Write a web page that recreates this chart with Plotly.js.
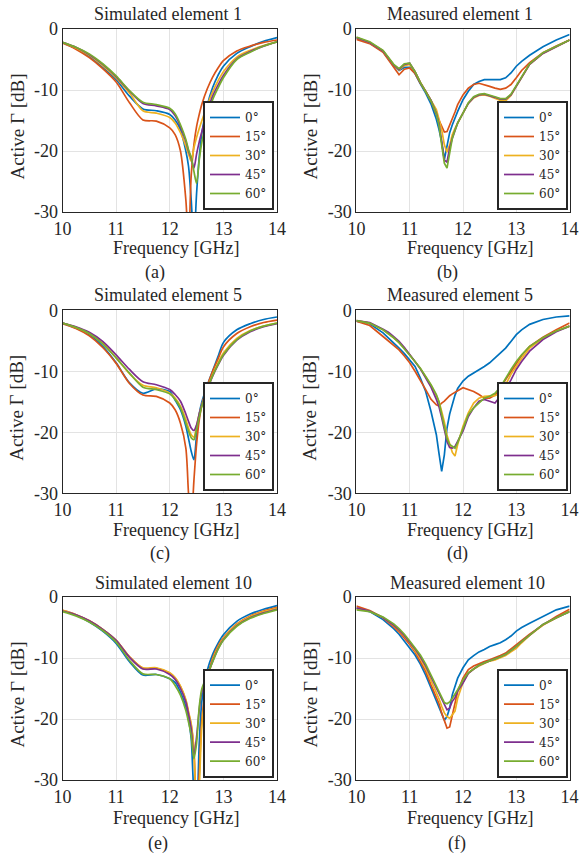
<!DOCTYPE html>
<html>
<head>
<meta charset="utf-8">
<script src="https://cdn.plot.ly/plotly-3.0.1.min.js"></script>
<style>html,body{margin:0;padding:0;background:#fff;}#chart{width:580px;height:861px;}</style>
</head>
<body>
<div id="chart"></div>
<script>
// ---------- data ----------
const angleNames = ['0°', '15°', '30°', '45°', '60°'];
const colors = ['#0072BD', '#D95319', '#EDB120', '#7E2F8E', '#77AC30'];

const simFreq = [10, 10.25, 10.5, 10.75, 11, 11.25, 11.5, 11.75, 12, 12.1, 12.2, 12.3, 12.35, 12.4, 12.45, 12.5, 12.55, 12.6, 12.7, 12.8, 12.9, 13, 13.25, 13.5, 13.75, 14];
const measFreq = [10, 10.25, 10.5, 10.6, 10.7, 10.8, 10.9, 11, 11.1, 11.2, 11.3, 11.4, 11.5, 11.55, 11.6, 11.65, 11.7, 11.75, 11.8, 11.85, 11.9, 12, 12.1, 12.2, 12.3, 12.4, 12.5, 12.6, 12.7, 12.8, 12.9, 13, 13.1, 13.25, 13.5, 13.75, 14];

// (a) Simulated element 1
const simEl1_0  = [-2.2, -3.2, -4.5, -6.3, -8.3, -11.0, -13.1, -13.4, -14.0, -14.9, -16.5, -20.0, -22.5, -28.0, -35, -27.0, -21.0, -17.0, -12.5, -9.6, -7.6, -6.1, -4.0, -2.9, -2.0, -1.4];
const simEl1_15 = [-2.3, -3.3, -4.7, -6.5, -8.7, -12.1, -14.9, -15.1, -16.2, -17.3, -20.0, -28.0, -35, -24.0, -19.0, -16.0, -14.0, -12.3, -9.8, -7.9, -6.4, -5.2, -3.6, -2.8, -2.2, -1.8];
const simEl1_30 = [-2.2, -3.1, -4.3, -6.0, -8.0, -10.5, -13.4, -13.8, -14.5, -15.4, -17.0, -19.2, -20.5, -21.7, -19.5, -17.8, -16.3, -15.0, -12.5, -10.3, -8.5, -7.0, -4.6, -3.5, -2.7, -2.1];
const simEl1_45 = [-2.2, -3.0, -4.2, -5.8, -7.8, -10.2, -12.2, -12.6, -13.2, -14.2, -16.0, -18.4, -20.0, -21.2, -22.8, -20.5, -18.5, -16.8, -13.6, -11.0, -9.2, -7.6, -4.9, -3.7, -2.8, -2.1];
const simEl1_60 = [-2.2, -3.0, -4.1, -5.7, -7.7, -10.1, -12.0, -12.4, -13.0, -13.9, -15.7, -18.1, -19.8, -21.0, -23.3, -25.3, -21.5, -18.5, -14.5, -11.6, -9.7, -8.0, -5.0, -3.8, -2.8, -2.1];

// (b) Measured element 1
const measEl1_0  = [-1.5, -2.3, -3.7, -4.8, -6.0, -6.8, -6.3, -6.3, -7.3, -9.0, -10.5, -12.3, -14.8, -16.5, -18.5, -21.4, -19.0, -17.0, -15.7, -14.5, -13.5, -11.6, -10.2, -9.1, -8.6, -8.3, -8.3, -8.3, -8.3, -8.0, -7.2, -6.1, -5.3, -4.3, -2.9, -1.8, -0.9];
const measEl1_15 = [-1.7, -2.4, -3.8, -5.0, -6.4, -7.5, -6.6, -6.4, -7.3, -8.9, -10.2, -11.8, -14.0, -15.0, -16.2, -16.9, -16.8, -15.8, -14.9, -13.6, -12.4, -10.8, -9.7, -9.1, -8.9, -9.1, -9.4, -9.7, -9.9, -9.7, -9.1, -8.0, -6.8, -5.5, -3.9, -2.8, -1.8];
const measEl1_30 = [-1.4, -2.2, -3.6, -4.7, -5.9, -6.7, -6.0, -5.8, -7.0, -8.7, -10.2, -11.6, -13.2, -14.8, -16.5, -19.0, -20.2, -19.0, -17.3, -16.3, -15.4, -13.8, -12.2, -11.3, -10.9, -10.8, -11.0, -11.3, -11.7, -11.8, -10.9, -9.4, -8.0, -5.8, -4.0, -2.9, -1.8];
const measEl1_45 = [-1.4, -2.2, -3.6, -4.7, -5.9, -6.6, -5.8, -5.6, -7.0, -8.8, -10.3, -11.7, -13.8, -15.5, -18.5, -21.5, -21.8, -19.5, -17.9, -16.6, -15.4, -13.8, -12.2, -11.2, -10.8, -10.7, -10.9, -11.2, -11.5, -11.5, -10.8, -9.4, -8.0, -5.8, -4.0, -2.9, -1.8];
const measEl1_60 = [-1.3, -2.1, -3.5, -4.6, -5.8, -6.5, -5.7, -5.6, -7.0, -8.8, -10.3, -11.8, -13.9, -15.8, -19.0, -22.0, -22.8, -20.0, -17.9, -16.6, -15.4, -13.8, -12.1, -11.1, -10.7, -10.6, -10.8, -11.1, -11.4, -11.4, -10.7, -9.3, -7.9, -5.7, -3.9, -2.8, -1.8];

// (c) Simulated element 5
const simEl5_0  = [-2.1, -2.9, -4.0, -5.9, -8.6, -11.9, -13.6, -12.9, -13.3, -14.7, -16.3, -19.0, -21.0, -23.1, -24.5, -20.5, -17.0, -15.0, -12.3, -9.9, -7.6, -5.3, -3.2, -2.2, -1.5, -1.1];
const simEl5_15 = [-2.2, -3.0, -4.2, -6.1, -8.7, -12.0, -13.9, -14.1, -15.2, -16.3, -18.5, -22.6, -30.0, -35, -28.0, -22.0, -18.0, -15.5, -12.4, -10.0, -8.0, -6.0, -3.8, -2.7, -2.0, -1.6];
const simEl5_30 = [-2.1, -2.8, -3.8, -5.4, -7.8, -10.4, -12.3, -12.7, -13.6, -14.4, -15.7, -17.9, -19.3, -20.4, -20.8, -19.0, -17.0, -15.5, -12.8, -10.5, -8.6, -7.0, -4.6, -3.3, -2.6, -2.1];
const simEl5_45 = [-2.1, -2.7, -3.6, -5.1, -7.3, -9.7, -11.7, -12.2, -13.0, -13.8, -14.9, -17.0, -18.2, -19.3, -19.7, -18.8, -17.0, -15.5, -13.0, -10.8, -9.0, -7.4, -4.9, -3.5, -2.7, -2.2];
const simEl5_60 = [-2.1, -2.8, -3.8, -5.5, -7.8, -10.3, -12.6, -13.0, -13.7, -14.6, -16.0, -18.5, -19.8, -20.9, -21.2, -19.5, -17.5, -15.7, -13.0, -10.7, -8.9, -7.3, -4.8, -3.4, -2.6, -2.1];

// (d) Measured element 5
const measEl5_0  = [-1.8, -2.2, -3.7, -4.5, -5.3, -6.2, -7.1, -8.1, -9.2, -11.1, -13.3, -16.6, -20.4, -23.5, -26.4, -23.7, -19.3, -17.0, -15.3, -13.9, -12.8, -11.6, -10.8, -10.3, -9.7, -9.2, -8.6, -7.8, -7.0, -6.2, -5.1, -4.0, -3.2, -2.3, -1.5, -1.1, -0.9];
const measEl5_15 = [-1.8, -2.5, -4.3, -5.0, -5.7, -6.5, -7.5, -8.6, -10.0, -11.4, -13.0, -14.6, -15.5, -15.7, -15.2, -14.9, -14.4, -14.0, -13.7, -13.4, -13.2, -12.7, -13.0, -13.3, -13.8, -14.4, -14.4, -13.9, -12.7, -11.4, -10.0, -8.6, -7.4, -5.9, -4.4, -3.2, -2.1];
const measEl5_30 = [-1.7, -2.1, -3.2, -3.8, -4.5, -5.3, -6.2, -7.3, -8.4, -9.6, -10.9, -12.3, -14.0, -15.0, -16.6, -18.3, -20.5, -22.0, -23.3, -23.9, -22.0, -19.0, -16.8, -15.2, -14.4, -14.1, -14.0, -14.0, -13.6, -12.2, -10.5, -9.2, -7.9, -6.2, -4.6, -3.4, -2.6];
const measEl5_45 = [-1.7, -2.0, -3.1, -3.6, -4.3, -5.1, -6.1, -7.2, -8.4, -9.6, -11.0, -12.6, -14.6, -15.8, -17.6, -19.5, -21.5, -22.5, -22.6, -22.3, -21.5, -19.8, -17.4, -16.0, -14.9, -14.6, -14.9, -15.2, -14.1, -13.0, -11.4, -9.7, -8.4, -6.7, -4.8, -3.5, -2.6];
const measEl5_60 = [-1.7, -2.1, -3.2, -3.8, -4.5, -5.3, -6.3, -7.3, -8.4, -9.5, -10.8, -12.2, -13.8, -15.0, -17.1, -19.0, -21.0, -22.0, -22.3, -22.6, -21.7, -19.3, -17.1, -16.0, -15.2, -14.4, -14.1, -13.6, -12.6, -11.1, -9.7, -8.4, -7.3, -5.9, -4.5, -3.4, -2.6];

// (e) Simulated element 10
const simEl10_0  = [-2.3, -3.0, -4.1, -5.6, -7.6, -10.6, -12.8, -12.7, -13.4, -14.0, -15.6, -18.0, -20.0, -23.2, -32.0, -35, -24.0, -17.0, -12.0, -9.4, -7.6, -6.2, -4.0, -2.8, -2.0, -1.4];
const simEl10_15 = [-2.2, -2.9, -3.9, -5.3, -7.1, -9.8, -11.7, -11.7, -12.5, -13.3, -14.7, -17.0, -19.0, -21.0, -25.0, -35, -29.0, -20.0, -13.5, -10.0, -8.0, -6.7, -4.4, -3.1, -2.3, -1.7];
const simEl10_30 = [-2.2, -2.9, -3.9, -5.3, -7.1, -9.8, -11.6, -11.6, -12.4, -13.2, -14.6, -16.8, -18.8, -20.8, -25.0, -35, -31.0, -21.0, -14.0, -10.3, -8.2, -6.8, -4.5, -3.2, -2.4, -1.8];
const simEl10_45 = [-2.3, -2.9, -3.9, -5.3, -7.1, -9.9, -11.8, -11.8, -12.7, -13.5, -15.0, -17.2, -19.2, -21.6, -26.2, -23.0, -18.5, -15.5, -12.8, -10.6, -8.5, -7.0, -4.7, -3.4, -2.6, -2.0];
const simEl10_60 = [-2.4, -3.1, -4.1, -5.5, -7.4, -10.4, -12.6, -12.7, -13.4, -14.5, -16.1, -18.6, -20.5, -22.7, -26.5, -24.0, -18.0, -15.0, -12.8, -10.6, -8.6, -7.1, -4.8, -3.5, -2.7, -2.1];

// (f) Measured element 10
const measEl10_0  = [-1.8, -2.4, -3.7, -4.4, -5.2, -6.1, -7.2, -8.4, -9.5, -11.0, -12.8, -14.9, -17.1, -18.3, -19.3, -20.2, -19.6, -18.2, -16.0, -14.6, -13.3, -11.6, -10.3, -9.6, -9.0, -8.6, -8.1, -7.8, -7.5, -7.0, -6.4, -5.6, -5.0, -4.3, -3.2, -2.1, -1.5];
const measEl10_15 = [-1.5, -2.2, -3.4, -4.1, -4.9, -5.7, -6.7, -7.8, -9.0, -10.5, -12.2, -14.4, -16.3, -17.5, -19.0, -20.4, -21.5, -21.3, -19.3, -17.1, -15.5, -13.3, -11.9, -11.3, -10.9, -10.6, -10.3, -10.0, -9.6, -9.2, -8.5, -7.8, -7.1, -6.1, -4.6, -3.2, -2.0];
const measEl10_30 = [-1.9, -2.3, -3.4, -4.0, -4.7, -5.5, -6.4, -7.5, -8.7, -10.1, -11.7, -13.6, -15.5, -16.7, -17.9, -19.0, -19.6, -19.9, -19.3, -18.7, -16.6, -14.0, -12.5, -11.8, -11.3, -10.9, -10.5, -10.3, -10.0, -9.6, -9.0, -8.4, -7.5, -6.3, -4.6, -3.4, -2.3];
const measEl10_45 = [-1.8, -2.3, -3.4, -4.0, -4.6, -5.4, -6.3, -7.4, -8.5, -9.8, -11.3, -13.1, -14.9, -15.8, -16.8, -17.8, -18.5, -18.2, -17.1, -16.5, -15.4, -14.1, -12.5, -11.8, -11.2, -10.8, -10.5, -10.2, -9.8, -9.4, -8.8, -8.1, -7.3, -6.2, -4.5, -3.4, -2.4];
const measEl10_60 = [-2.1, -2.4, -3.3, -3.8, -4.4, -5.2, -6.1, -7.2, -8.3, -9.5, -11.0, -12.8, -14.6, -15.5, -16.5, -17.3, -17.5, -17.2, -16.6, -16.0, -15.2, -13.6, -12.4, -11.8, -11.2, -10.8, -10.5, -10.2, -9.8, -9.4, -8.8, -8.1, -7.3, -6.2, -4.5, -3.4, -2.4];

const panelTitles = ['Simulated element 1', 'Measured element 1', 'Simulated element 5', 'Measured element 5', 'Simulated element 10', 'Measured element 10'];
const panelLetters = ['(a)', '(b)', '(c)', '(d)', '(e)', '(f)'];
const xTickVals = [10, 11, 12, 13, 14];
const xTickText = ['10', '11', '12', '13', '14'];
const yTickVals = [-30, -20, -10, 0];
const yTickText = ['-30', '-20', '-10', '0'];
const xTitle = 'Frequency [GHz]';
const yTitle = 'Active Γ [dB]';

// ---------- build ----------
const panels = [
  {freq: simFreq,  series: [simEl1_0, simEl1_15, simEl1_30, simEl1_45, simEl1_60], sim: true},
  {freq: measFreq, series: [measEl1_0, measEl1_15, measEl1_30, measEl1_45, measEl1_60], sim: false},
  {freq: simFreq,  series: [simEl5_0, simEl5_15, simEl5_30, simEl5_45, simEl5_60], sim: true},
  {freq: measFreq, series: [measEl5_0, measEl5_15, measEl5_30, measEl5_45, measEl5_60], sim: false},
  {freq: simFreq,  series: [simEl10_0, simEl10_15, simEl10_30, simEl10_45, simEl10_60], sim: true},
  {freq: measFreq, series: [measEl10_0, measEl10_15, measEl10_30, measEl10_45, measEl10_60], sim: false}
];

const W = 580, H = 861;
const colX = [[62.5, 277], [356.4, 569.6]];
const rowY = [[29, 212], [310.3, 493.3], [597, 780]];
const titleY = [14, 295, 583];
const titleX = [[168, 460], [168, 460], [173, 467]];
const freqY = [248, 530, 818];
const freqX = [176, 470];
const letterY = [272, 553, 843];
const letterX = [[155, 447], [160, 457], [158, 457]];
const yTitleX = [17, 310];
const legendRight = [274, 568];
const legendBottom = [210, 491, 777.7];

const serif = 'Liberation Serif, Times New Roman, serif';
const txtColor = '#262626';

const traces = [];
const layout = {
  width: W, height: H,
  margin: {l: 0, r: 0, t: 0, b: 0},
  paper_bgcolor: '#ffffff', plot_bgcolor: '#ffffff',
  font: {family: serif, size: 18, color: txtColor},
  annotations: []
};

panels.forEach((p, i) => {
  const r = Math.floor(i / 2), c = i % 2;
  const k = i + 1;
  const xa = 'x' + (k === 1 ? '' : k), ya = 'y' + (k === 1 ? '' : k);
  const legName = 'legend' + (k === 1 ? '' : k);
  p.series.forEach((vals, s) => {
    traces.push({
      type: 'scatter', mode: 'lines',
      x: p.freq, y: vals,
      name: angleNames[s],
      xaxis: xa, yaxis: ya,
      legend: legName,
      line: {color: colors[s], width: 1.7, shape: p.sim ? 'spline' : 'linear', smoothing: 0.8}
    });
  });
  const axX = {
    domain: [colX[c][0] / W, colX[c][1] / W],
    anchor: ya, range: [10, 14],
    tickvals: xTickVals, ticktext: xTickText,
    showgrid: true, gridcolor: '#e3e3e3', gridwidth: 1,
    showline: true, mirror: true, linecolor: '#262626', linewidth: 1,
    ticks: '', zeroline: false,
    tickfont: {family: serif, size: 18, color: txtColor}
  };
  const axY = {
    domain: [1 - rowY[r][1] / H, 1 - rowY[r][0] / H],
    anchor: xa, range: [-30, 0],
    tickvals: yTickVals, ticktext: yTickText,
    showgrid: true, gridcolor: '#e3e3e3', gridwidth: 1,
    showline: true, mirror: true, linecolor: '#262626', linewidth: 1,
    ticks: '', zeroline: false,
    tickfont: {family: serif, size: 18, color: txtColor}
  };
  layout['xaxis' + (k === 1 ? '' : k)] = axX;
  layout['yaxis' + (k === 1 ? '' : k)] = axY;
  layout[legName] = {
    x: legendRight[c] / W, y: 1 - legendBottom[r] / H,
    xanchor: 'right', yanchor: 'bottom',
    bgcolor: '#ffffff', bordercolor: '#262626', borderwidth: 2,
    font: {family: 'DejaVu Serif, serif', size: 12, color: txtColor},
    itemwidth: 30, tracegroupgap: 0
  };
  const ann = (text, x, y, opts) => Object.assign({
    text: text, x: x / W, y: 1 - y / H, xref: 'paper', yref: 'paper',
    xanchor: 'center', yanchor: 'middle', showarrow: false,
    font: {family: serif, size: 18, color: txtColor}
  }, opts || {});
  layout.annotations.push(ann(panelTitles[i], titleX[r][c], titleY[r]));
  layout.annotations.push(ann(xTitle, freqX[c], freqY[r]));
  layout.annotations.push(ann(panelLetters[i], letterX[r][c], letterY[r]));
  layout.annotations.push(ann(yTitle, yTitleX[c], (rowY[r][0] + rowY[r][1]) / 2 + 6, {textangle: -90, font: {family: serif, size: 19, color: txtColor}}));
});

Plotly.newPlot('chart', traces, layout, {staticPlot: true, displayModeBar: false});
</script>
</body>
</html>
